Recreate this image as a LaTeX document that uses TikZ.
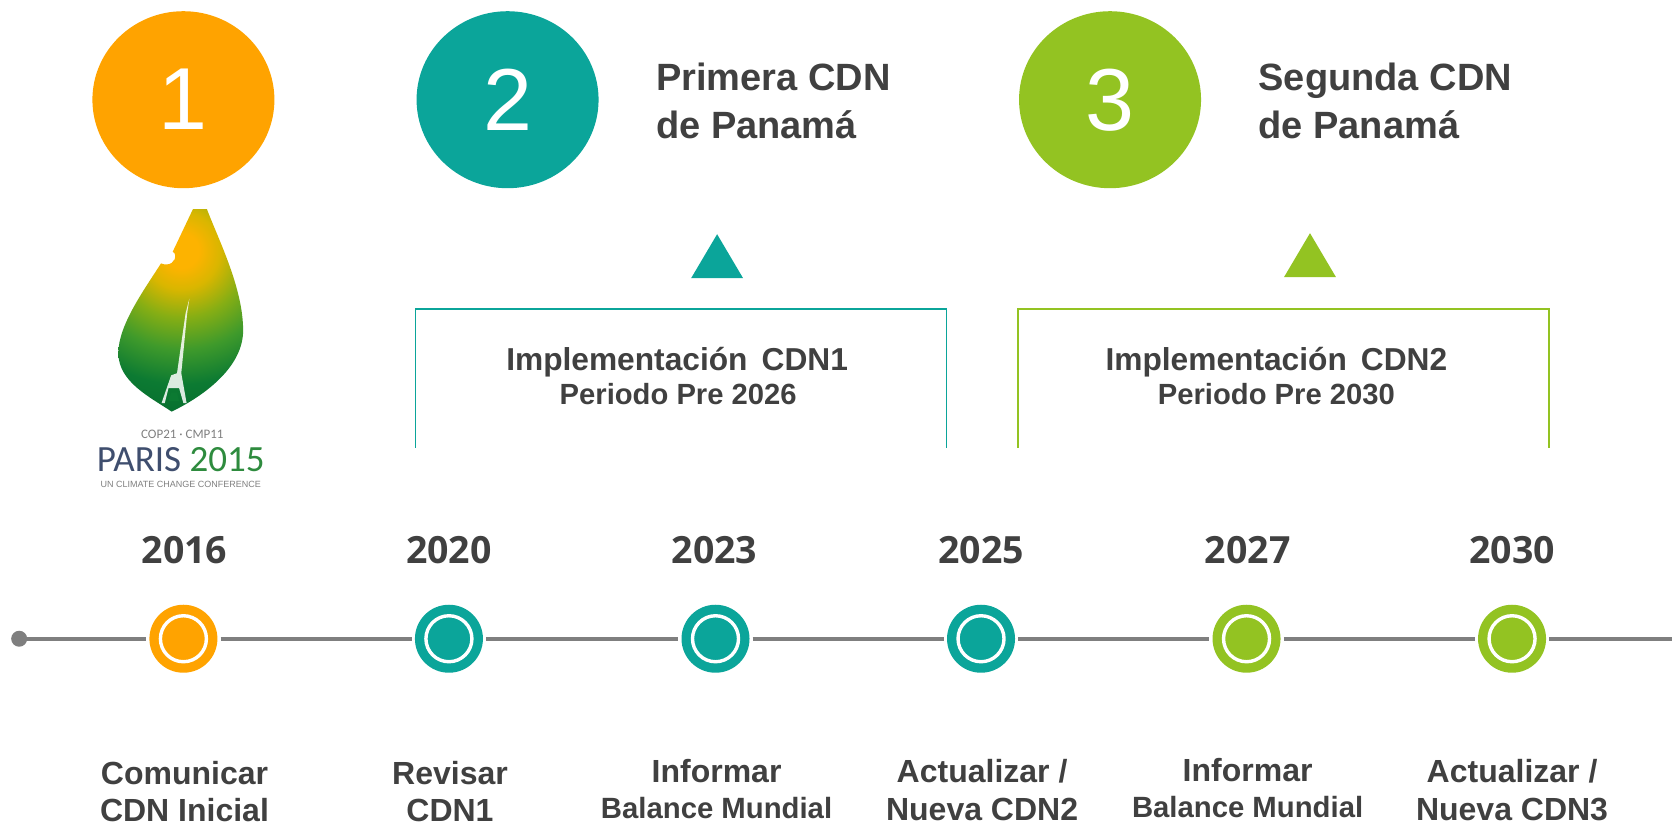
\documentclass[tikz,border=0pt]{standalone}
\usetikzlibrary{shapes.geometric}
\usepackage{fontspec}
\setmainfont{Liberation Sans}
\newfontfamily\yearfont{Open Sans}
\newfontfamily\logofont{Carlito}
\definecolor{cOr}{HTML}{FFA300}
\definecolor{cTe}{HTML}{0BA59A}
\definecolor{cGr}{HTML}{93C322}
\definecolor{cTx}{HTML}{404040}
\definecolor{cLn}{HTML}{7F7F7F}
\definecolor{cNavy}{HTML}{3F4E6E}
\definecolor{cLeafG}{HTML}{2E8B3E}
\definecolor{lfA}{HTML}{FDB300}
\definecolor{lfB}{HTML}{D9B600}
\definecolor{lfC}{HTML}{86AE14}
\definecolor{lfD}{HTML}{3F9A2B}
\definecolor{lfE}{HTML}{0C7A32}
\definecolor{lfF}{HTML}{056A2E}
\pgfdeclareradialshading{leafshade}{\pgfpoint{0bp}{0bp}}{color(0bp)=(lfA); color(2.5bp)=(lfA); color(5.5bp)=(lfB); color(9.5bp)=(lfC); color(14bp)=(lfD); color(19bp)=(lfE); color(25bp)=(lfF); color(50bp)=(lfF)}
\tikzset{
  x=1.06633pt,y=-1.06633pt,
  bigdot/.style={ellipse,inner sep=0pt,minimum width=182pt,minimum height=177pt,text=white,font=\fontsize{88}{88}\selectfont},
  tri/.style={isosceles triangle,isosceles triangle stretches,shape border rotate=90,inner sep=0pt,minimum height=44pt,minimum width=52pt},
  title/.style={anchor=west,align=left,text=cTx,font=\fontsize{38}{48}\selectfont\bfseries},
  implA/.style={text=cTx,font=\fontsize{31.7}{32}\selectfont\bfseries},
  implB/.style={text=cTx,font=\fontsize{29.2}{30}\selectfont\bfseries},
  yearlab/.style={text=cTx,font=\fontsize{37.5}{40}\selectfont\yearfont\bfseries},
  ticknode/.style={circle,inner sep=0pt,minimum size=68pt,line width=0pt},
  ring/.style={circle,inner sep=0pt,minimum size=46pt,draw=white,line width=3.4pt},
  gapnode/.style={circle,inner sep=0pt,minimum size=74pt},
  axis/.style={draw=cLn,line width=4.2pt},
  lab/.style={anchor=base,inner sep=0pt,align=center,text=cTx,font=\fontsize{32}{37.5}\selectfont\bfseries},
  labs/.style={anchor=base,inner sep=0pt,align=center,text=cTx,font=\fontsize{29.3}{36.5}\selectfont\bfseries},
  brk/.style={line width=1.5pt}
}
\begin{document}
\begin{tikzpicture}
\useasboundingbox (0,0) rectangle (1568,774);
% big circles
\node[bigdot,fill=cOr] (c1) at (172,93.5) {1};
\node[bigdot,fill=cTe] (c2) at (476,93.5) {2};
\node[bigdot,fill=cGr] (c3) at (1041,93.5) {3};
\node[title] (t2) at (612,94.5) {Primera CDN\\de Panamá};
\node[title] (t3) at (1177,94.5) {Segunda CDN\\de Panamá};
% triangles
\node[tri,fill=cTe] (tr2) at (672.5,247) {};
\node[tri,fill=cGr] (tr3) at (1228.5,246) {};
% brackets
\coordinate (b2a) at (389.5,420); \coordinate (b2b) at (389.5,290); \coordinate (b2c) at (887.5,290); \coordinate (b2d) at (887.5,420);
\coordinate (b3a) at (954.5,420); \coordinate (b3b) at (954.5,290); \coordinate (b3c) at (1452.5,290); \coordinate (b3d) at (1452.5,420);
\draw[brk,draw=cTe] (b2a) -- (b2b) -- (b2c) -- (b2d);
\draw[brk,draw=cGr] (b3a) -- (b3b) -- (b3c) -- (b3d);
\node[implA] (i2) at (635,339.5) {Implementación\, CDN1};
\node[implB] (p2) at (636,369.5) {Periodo Pre 2026};
\node[implA] (i3) at (1197,339.5) {Implementación\, CDN2};
\node[implB] (p3) at (1197,369.5) {Periodo Pre 2030};
% leaf
\begin{scope}
\clip (181,196) -- (194,196)
  .. controls (205,225) and (228,270) .. (228,310)
  .. controls (228,345) and (190,372) .. (161,386)
  .. controls (140,372) and (111,358) .. (111,331)
  .. controls (111,305) and (135,272) .. (151,247)
  .. controls (158,250) and (166,246) .. (164,238)
  -- (162,236) -- cycle;
\shade[shading=leafshade] (170,235) circle (165);
\end{scope}
\fill[white,opacity=.85] (177.6,280) -- (175.5,294) -- (170,350) -- (175,378) -- (172,378) -- (168,364) -- (158,364) -- (154.5,378) -- (151.5,378) -- (160.5,352) -- (166,350) -- (174,294) -- cycle;
\fill[lfE] (160.5,368) -- (166,368) -- (168,376) -- (158,376) -- cycle;
\node[text=cLn,font=\fontsize{13}{14}\selectfont\logofont] (lg1) at (171,407) {COP21 · CMP11};
\node[font=\fontsize{37}{38}\selectfont\logofont] (lg2) at (169.5,431) {\textcolor{cNavy}{PARIS} \textcolor{cLeafG}{2015}};
\node[text=cLn,font=\fontsize{9}{10}\selectfont] (lg3) at (169.5,454) {UN CLIMATE CHANGE CONFERENCE};
% years
\node[yearlab] (y1) at (173,516) {2016};
\node[yearlab] (y2) at (421,516) {2020};
\node[yearlab] (y3) at (670,516) {2023};
\node[yearlab] (y4) at (920,516) {2025};
\node[yearlab] (y5) at (1170,516) {2027};
\node[yearlab] (y6) at (1418,516) {2030};
% timeline
\node[circle,inner sep=0pt,minimum size=16pt,fill=cLn] (s0) at (18,599) {};
\foreach \n/\xx in {g1/172,g2/421,g3/671,g4/920,g5/1169,g6/1418}{
  \node[gapnode] (\n) at (\xx,599) {};
}
\coordinate (tend) at (1568,599);
\draw[axis] (s0) -- (g1);
\draw[axis] (g1) -- (g2);
\draw[axis] (g2) -- (g3);
\draw[axis] (g3) -- (g4);
\draw[axis] (g4) -- (g5);
\draw[axis] (g5) -- (g6);
\draw[axis] (g6) -- (tend);
\foreach \n/\xx/\cc in {n1/172/cOr,n2/421/cTe,n3/671/cTe,n4/920/cTe,n5/1169/cGr,n6/1418/cGr}{
  \node[ticknode,fill=\cc] (\n) at (\xx,599) {};
  \node[ring,fill=\cc] (r\n) at (\xx,599) {};
}
% captions
\node[lab] (l1) at (173,770.5) {Comunicar\\CDN Inicial};
\node[lab] (l2) at (422,770.5) {Revisar\\CDN1};
\node[labs] (l3) at (672,768) {{\fontsize{32}{37}\selectfont Informar}\\Balance Mundial};
\node[lab] (l4) at (921,769) {Actualizar /\\Nueva CDN2};
\node[labs] (l5) at (1170,767) {{\fontsize{32}{37}\selectfont Informar}\\Balance Mundial};
\node[lab] (l6) at (1418,769) {Actualizar /\\Nueva CDN3};
\end{tikzpicture}
\end{document}
